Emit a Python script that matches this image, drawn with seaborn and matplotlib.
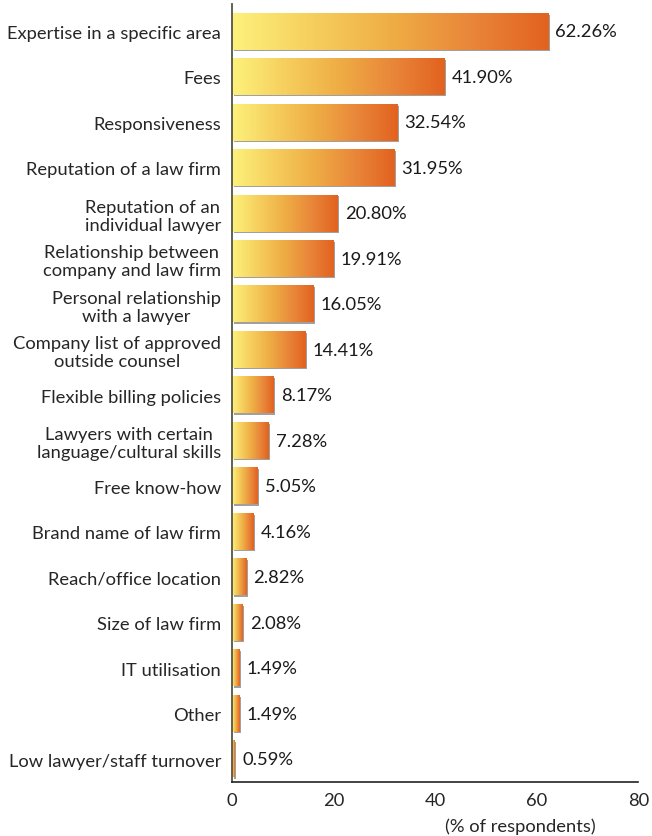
import numpy as np
import pandas as pd
import matplotlib
matplotlib.use("Agg")
import matplotlib.pyplot as plt
import matplotlib.transforms as mtransforms
from matplotlib.colors import LinearSegmentedColormap
from matplotlib.patches import Rectangle
import seaborn as sns

categories = [
    "Expertise in a specific area",
    "Fees",
    "Responsiveness",
    "Reputation of a law firm",
    "Reputation of an\nindividual lawyer",
    "Relationship between\ncompany and law firm",
    "Personal relationship\nwith a lawyer",
    "Company list of approved\noutside counsel",
    "Flexible billing policies",
    "Lawyers with certain\nlanguage/cultural skills",
    "Free know-how",
    "Brand name of law firm",
    "Reach/office location",
    "Size of law firm",
    "IT utilisation",
    "Other",
    "Low lawyer/staff turnover",
]
values = [62.26, 41.90, 32.54, 31.95, 20.80, 19.91, 16.05, 14.41, 8.17, 7.28,
          5.05, 4.16, 2.82, 2.08, 1.49, 1.49, 0.59]
x_ticks = [0, 20, 40, 60, 80]
x_label = "(% of respondents)"

df = pd.DataFrame({"category": categories, "value": values})

sns.set_style("white")
plt.rcParams["font.family"] = ["Lato", "DejaVu Sans"]
FS = 13.2

fig = plt.figure(figsize=(6.52, 8.37), dpi=100)
ax = fig.add_axes([0.356, 0.0645, 0.623, 0.9295])

sns.barplot(data=df, x="value", y="category", orient="h", ax=ax,
            width=0.8, color="#F0B84A", edgecolor="none")

cmap = LinearSegmentedColormap.from_list(
    "yo", ["#FDF27C", "#F6CF5E", "#EFAE45", "#E9873A", "#E2621F"])
grad = np.linspace(0, 1, 256).reshape(1, -1)

shadow_tr = ax.transData + mtransforms.ScaledTranslation(1.0 / 72, -1.0 / 72, fig.dpi_scale_trans)
for p in list(ax.patches):
    x0, y0 = p.get_x(), p.get_y()
    w, h = p.get_width(), p.get_height()
    sh = Rectangle((x0, y0), w, h, transform=shadow_tr, facecolor="#a0a0a0",
                   edgecolor="none", zorder=1)
    ax.add_patch(sh)
    p.set_visible(False)
    ax.imshow(grad, cmap=cmap, aspect="auto", extent=[x0, x0 + w, y0 + h, y0],
              zorder=2, interpolation="bilinear")

for i, v in enumerate(values):
    ax.text(v + 1.4, i, f"{v:.2f}%", va="center", ha="left", fontsize=FS,
            color="#1a1a1a")

ax.set_xlim(0, 80)
ax.set_ylim(16.5, -0.6)
ax.set_xticks(x_ticks)
ax.set_xticklabels([str(t) for t in x_ticks], fontsize=FS)
ax.set_ylabel("")
ax.set_xlabel(x_label, fontsize=FS)
ax.xaxis.set_label_coords(0.71, -0.045)
ax.tick_params(axis="y", length=0, labelsize=FS, pad=8)
ax.tick_params(axis="x", direction="in", length=5, width=1, color="#222222", pad=7)
for lab in ax.get_yticklabels():
    lab.set_horizontalalignment("right")
    lab.set_multialignment("center")
    lab.set_linespacing(1.15)
ax.spines["top"].set_visible(False)
ax.spines["right"].set_visible(False)
ax.spines["left"].set_color("#555544")
ax.spines["left"].set_linewidth(1.3)
ax.spines["bottom"].set_color("#222222")
ax.spines["bottom"].set_linewidth(1.2)
ax.set_axisbelow(False)

fig.savefig("out.png", dpi=100, facecolor="white")
